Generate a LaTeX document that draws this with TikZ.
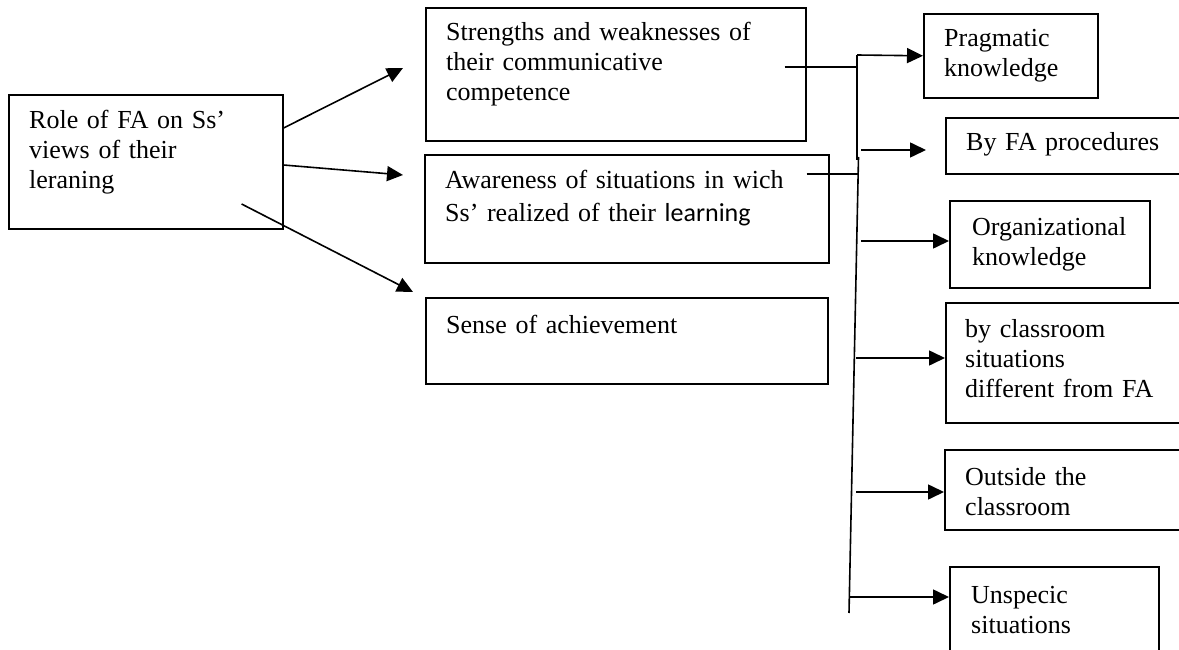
\documentclass[tikz,border=0pt]{standalone}
\usepackage{fontspec}
\setmainfont{Liberation Serif}
\newfontfamily\calibri{Carlito}
\usetikzlibrary{arrows.meta}

\tikzset{
  box/.style={draw, line width=1.6pt, rectangle, inner sep=0pt, anchor=north west},
  txt/.style={anchor=base west, inner sep=0pt, align=left, text width=420pt,
    font=\fontsize{26}{30}\selectfont},
  arr/.style={-{Triangle[length=16pt,width=15pt]}, line width=1.6pt},
  ln/.style={line width=1.6pt}
}

\begin{document}
\begin{tikzpicture}[x=1pt,y=-1pt]
  \useasboundingbox (0,0) rectangle (1179,650);
  \clip (0,0) rectangle (1179,650);

  % Boxes
  \node[box, minimum width=274pt, minimum height=134pt] (root) at (8,94) {};
  \node[box, minimum width=380pt, minimum height=133pt] (strong) at (425,7) {};
  \node[box, minimum width=404pt, minimum height=108pt] (aware) at (424,154) {};
  \node[box, minimum width=402pt, minimum height=86pt] (sense) at (425,297) {};
  \node[box, minimum width=174pt, minimum height=84pt] (prag) at (923,13) {};
  \node[box, minimum width=260pt, minimum height=56pt] (byfa) at (945,117) {};
  \node[box, minimum width=200pt, minimum height=87pt] (org) at (949,200) {};
  \node[box, minimum width=260pt, minimum height=120pt] (cls) at (945,302) {};
  \node[box, minimum width=260pt, minimum height=80pt] (outs) at (944,449) {};
  \node[box, minimum width=209pt, minimum height=110pt] (unsp) at (949,566) {};

  % Texts
  \node[txt] (root-t) at (29,129) {Role of FA on Ss’\\views of their\\leraning};
  \node[txt] (strong-t) at (446,41) {Strengths and weaknesses of\\their communicative\\competence};
  \node[txt] (aware-t) at (445,189) {Awareness of situations in wich\\[3pt]Ss’ realized of their {\calibri learning}};
  \node[txt] (sense-t) at (446,333) {Sense of achievement};
  \node[txt] (prag-t) at (944,47) {Pragmatic\\knowledge};
  \node[txt] (byfa-t) at (966,151) {By FA procedures};
  \node[txt] (org-t) at (972,236) {Organizational\\knowledge};
  \node[txt] (cls-t) at (965,337) {by classroom\\situations\\different from FA};
  \node[txt] (outs-t) at (965,485) {Outside the\\classroom};
  \node[txt] (unsp-t) at (971,603) {Unspecic\\situations};

  % Arrows from the root box
  \coordinate (tipA) at (403,68);
  \coordinate (tipB) at (403,175);
  \coordinate (tipC) at (413,292);
  \draw[arr] ([yshift=-34pt]root.north east) -- (tipA);
  \draw[arr] ([yshift=-71pt]root.north east) -- (tipB);
  \draw[arr] ([xshift=-42pt,yshift=-110pt]root.north east) -- (tipC);

  % Spine
  \coordinate (sp1) at (857,55);
  \coordinate (sp2) at (857,160);
  \coordinate (sp3) at (858.5,157);
  \coordinate (sp4) at (849,613);
  \draw[ln] (sp1) -- (sp2);
  \draw[ln] (sp3) -- (sp4);
  \draw[ln] ([xshift=-22pt,yshift=-60pt]strong.north east) -- (857,67);
  \draw[ln] ([xshift=-23pt,yshift=-20pt]aware.north east) -- (858,174);

  % Arrows to the right column
  \coordinate (s2) at (861,150);
  \coordinate (tipF) at (926,150);
  \coordinate (s3) at (861,241);
  \coordinate (s4) at (856,358);
  \coordinate (s5) at (856,492);
  \coordinate (s6) at (849,597);
  \draw[arr] (sp1) -- (prag.west);
  \draw[arr] (s2) -- (tipF);
  \draw[arr] (s3) -- (s3 -| org.west);
  \draw[arr] (s4) -- (s4 -| cls.west);
  \draw[arr] (s5) -- (s5 -| outs.west);
  \draw[arr] (s6) -- (s6 -| unsp.west);
\end{tikzpicture}
\end{document}
